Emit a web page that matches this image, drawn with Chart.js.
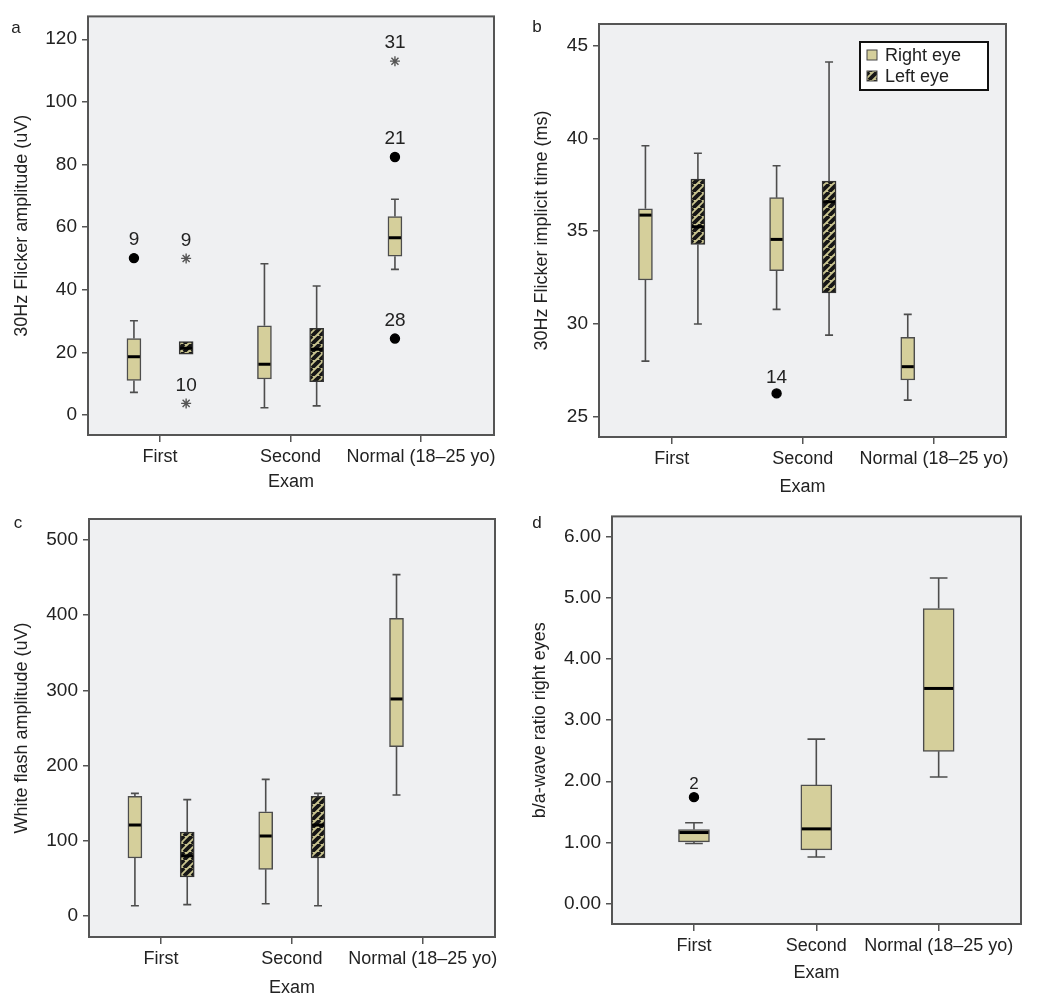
<!DOCTYPE html>
<html>
<head>
<meta charset="utf-8">
<script src="https://cdn.jsdelivr.net/npm/chart.js@4/dist/chart.umd.min.js"></script>
<style>
  body { margin: 0; background: #fff; }
  #wrap { position: relative; width: 1050px; height: 1003px; }
  canvas { position: absolute; }
</style>
</head>
<body>
<div id="wrap">
  <canvas id="pa" width="525" height="500" style="left:0;top:0"></canvas>
  <canvas id="pb" width="525" height="500" style="left:525px;top:0"></canvas>
  <canvas id="pc" width="525" height="503" style="left:0;top:500px"></canvas>
  <canvas id="pd" width="525" height="503" style="left:525px;top:500px"></canvas>
</div>
<script>
const exams = ['First', 'Second', 'Normal (18–25 yo)'];

// each row: [min, q1, median, q3, max] per exam
const flickerAmpRight = [[7.2, 11.0, 18.6, 24.4, 30.1], [2.3, 11.5, 16.2, 28.5, 48.3], [46.5, 50.7, 56.6, 63.4, 68.9]];
const flickerAmpLeft = [[19.4, 19.4, 21.3, 23.4, 23.4], [2.9, 10.6, 21.0, 27.7, 41.2]];
// [exam index, eye, value, case no, marker]
const flickerAmpOutliers = [
  [0, 'R', 50.1, '9', 'circle'], [0, 'L', 50.0, '9', 'star'], [0, 'L', 3.7, '10', 'star'],
  [2, 'R', 113.0, '31', 'star'], [2, 'R', 82.4, '21', 'circle'], [2, 'R', 24.4, '28', 'circle']
];
const flickerAmpTicks = [0, 20, 40, 60, 80, 100, 120];

const flickerTimeRight = [[28.0, 32.37, 35.87, 36.21, 39.61], [30.79, 32.87, 34.56, 36.81, 38.53], [25.9, 26.98, 27.7, 29.28, 30.52]];
const flickerTimeLeft = [[30.0, 34.29, 35.24, 37.81, 39.2], [29.4, 31.68, 36.59, 37.7, 44.12]];
const flickerTimeOutliers = [[1, 'R', 26.26, '14', 'circle']];
const flickerTimeTicks = [25, 30, 35, 40, 45];

const whiteFlashRight = [[13.7, 77.1, 121.0, 159.1, 163.1], [16.4, 62.1, 106.4, 138.7, 181.7], [160.9, 225.2, 288.6, 395.8, 453.9]];
const whiteFlashLeft = [[15.1, 51.9, 80.0, 111.7, 154.7], [13.7, 77.1, 121.0, 159.1, 163.1]];
const whiteFlashTicks = [0, 100, 200, 300, 400, 500];

const baRatioRight = [[0.98, 1.006, 1.16, 1.21, 1.32], [0.76, 0.876, 1.22, 1.94, 2.69], [2.07, 2.49, 3.52, 4.83, 5.33]];
const baRatioOutliers = [[0, 'R', 1.74, '2', 'circle']];
const baRatioTicks = [0, 1, 2, 3, 4, 5, 6];

const FONT = '"Liberation Sans", Arial, sans-serif';
const TXT = '#222';
const TAN = '#d5cf9b';

function hatchPattern() {
  const s = 8;
  const c = document.createElement('canvas');
  c.width = s; c.height = s;
  const g = c.getContext('2d');
  g.fillStyle = '#c9c48f';
  g.fillRect(0, 0, s, s);
  g.strokeStyle = '#161616';
  g.lineWidth = 3.8;
  for (let k = -1; k <= 1; k++) {
    g.beginPath();
    g.moveTo(k * s, s);
    g.lineTo(k * s + s, 0);
    g.stroke();
  }
  return g.createPattern(c, 'repeat');
}

const boxPlugin = {
  id: 'boxplot',
  beforeDraw(chart) {
    const {ctx, chartArea: a} = chart;
    ctx.save();
    ctx.fillStyle = '#eff0f2';
    ctx.fillRect(a.left, a.top, a.right - a.left, a.bottom - a.top);
    ctx.restore();
  },
  beforeDatasetsDraw(chart) {
    const {ctx} = chart;
    const y = chart.scales.y;
    ctx.save();
    ctx.strokeStyle = '#4d4d4d';
    ctx.lineWidth = 1.6;
    chart.data.datasets.forEach((ds, i) => {
      if (!ds.stats) return;
      chart.getDatasetMeta(i).data.forEach((el, j) => {
        const s = ds.stats[j];
        const cap = el.width * 0.57;
        [[s[1], s[0]], [s[3], s[4]]].forEach(([from, to]) => {
          if (to === from) return;
          ctx.beginPath();
          ctx.moveTo(el.x, y.getPixelForValue(from));
          ctx.lineTo(el.x, y.getPixelForValue(to));
          ctx.moveTo(el.x - cap / 2, y.getPixelForValue(to));
          ctx.lineTo(el.x + cap / 2, y.getPixelForValue(to));
          ctx.stroke();
        });
      });
    });
    ctx.restore();
  },
  afterDatasetsDraw(chart, args, opts) {
    const {ctx, chartArea: a} = chart;
    const y = chart.scales.y;
    ctx.save();
    // medians
    ctx.strokeStyle = '#000';
    ctx.lineWidth = 3;
    chart.data.datasets.forEach((ds, i) => {
      if (!ds.stats) return;
      chart.getDatasetMeta(i).data.forEach((el, j) => {
        const py = y.getPixelForValue(ds.stats[j][2]);
        ctx.beginPath();
        ctx.moveTo(el.x - el.width / 2 + 1, py);
        ctx.lineTo(el.x + el.width / 2 - 1, py);
        ctx.stroke();
      });
    });
    // case numbers over outliers
    ctx.fillStyle = TXT;
    ctx.textAlign = 'center';
    ctx.textBaseline = 'middle';
    chart.data.datasets.forEach((ds, i) => {
      if (!ds.caseNo) return;
      ctx.font = (opts.caseSize || 19) + 'px ' + FONT;
      chart.getDatasetMeta(i).data.forEach((el, j) => {
        ctx.fillText(ds.caseNo[j], el.x, el.y - (opts.caseGap || 18));
      });
    });
    // frame
    ctx.strokeStyle = '#555';
    ctx.lineWidth = 2;
    ctx.strokeRect(a.left, a.top, a.right - a.left, a.bottom - a.top);
    // panel letter
    ctx.font = '17px ' + FONT;
    ctx.fillText(opts.letter[0], opts.letter[1], opts.letter[2]);
    // legend
    if (opts.legend) {
      const L = opts.legend;
      ctx.fillStyle = '#fff';
      ctx.fillRect(L.x, L.y, L.w, L.h);
      ctx.strokeStyle = '#111';
      ctx.lineWidth = 2;
      ctx.strokeRect(L.x, L.y, L.w, L.h);
      const items = [['Right eye', TAN], ['Left eye', chart.$hatch]];
      ctx.textAlign = 'left';
      ctx.font = '18px ' + FONT;
      items.forEach(([t, fill], k) => {
        const cy = L.y + 13 + k * 21;
        ctx.fillStyle = fill;
        ctx.fillRect(L.x + 7, cy - 5, 10, 10);
        ctx.strokeStyle = '#444';
        ctx.lineWidth = 1;
        ctx.strokeRect(L.x + 7, cy - 5, 10, 10);
        ctx.fillStyle = TXT;
        ctx.fillText(t, L.x + 25, cy + 1);
      });
    }
    ctx.restore();
  }
};

function panel(id, p) {
  const canvas = document.getElementById(id);
  const W = canvas.width, H = canvas.height;
  const hatch = hatchPattern();
  const datasets = [];
  const off = p.left ? 0.2 : 0;
  datasets.push({
    type: 'bar',
    data: p.right.map((s, i) => ({x: i + 1 - off, y: [s[1], s[3]]})),
    stats: p.right,
    backgroundColor: TAN,
    borderColor: '#4d4d4d',
    borderWidth: 1.5,
    borderSkipped: false,
    barThickness: p.barW,
    grouped: false
  });
  if (p.left) {
    datasets.push({
      type: 'bar',
      data: p.left.map((s, i) => ({x: i + 1 + off, y: [s[1], s[3]]})),
      stats: p.left,
      backgroundColor: hatch,
      borderColor: '#333',
      borderWidth: 1.5,
      borderSkipped: false,
      barThickness: p.barW,
      grouped: false
    });
  }
  if (p.outliers) {
    datasets.push({
      type: 'scatter',
      data: p.outliers.map(o => ({x: o[0] + 1 + (o[1] === 'R' ? -off : off), y: o[2]})),
      caseNo: p.outliers.map(o => o[3]),
      pointStyle: p.outliers.map(o => o[4]),
      pointRadius: p.outliers.map(o => o[4] === 'star' ? 5 : 4.5),
      backgroundColor: p.outliers.map(o => o[4] === 'star' ? '#555' : '#000'),
      borderColor: p.outliers.map(o => o[4] === 'star' ? '#555' : '#000'),
      borderWidth: 1.4
    });
  }
  const chart = new Chart(canvas, {
    type: 'bar',
    data: {datasets},
    plugins: [boxPlugin],
    options: {
      responsive: false,
      animation: false,
      events: [],
      layout: {padding: {left: 0, top: p.area[1], right: W - p.area[2], bottom: 0}},
      plugins: {
        legend: {display: false},
        tooltip: {enabled: false},
        boxplot: {letter: p.letter, legend: p.legend, caseSize: p.caseSize, caseGap: p.caseGap}
      },
      scales: {
        x: {
          type: 'linear',
          offset: false,
          min: p.xRange[0], max: p.xRange[1],
          afterFit: s => { s.height = H - p.area[3]; },
          afterBuildTicks: s => { s.ticks = exams.map((e, i) => ({value: i + 1})); },
          border: {display: false},
          grid: {offset: false, drawOnChartArea: false, drawTicks: true, tickLength: 7, color: '#555', lineWidth: 1.5},
          ticks: {
            autoSkip: false, maxRotation: 0, minRotation: 0, padding: 4,
            color: TXT, font: {family: FONT, size: 18},
            callback: v => exams[Math.round(v) - 1]
          },
          title: {display: true, text: 'Exam', color: TXT, font: {family: FONT, size: 18},
                  padding: {top: 0, bottom: p.xTitlePad}}
        },
        y: {
          min: p.yRange[0], max: p.yRange[1],
          afterFit: s => { s.width = p.area[0]; },
          afterBuildTicks: s => { s.ticks = p.yTicks.map(v => ({value: v})); },
          border: {display: false},
          grid: {drawOnChartArea: false, drawTicks: true, tickLength: 6, color: '#555', lineWidth: 1.5},
          ticks: {
            padding: 5, color: TXT, font: {family: FONT, size: 19},
            callback: v => p.decimals ? v.toFixed(p.decimals) : v
          },
          title: {display: true, text: p.yTitle, color: TXT, font: {family: FONT, size: 18},
                  padding: {top: p.yTitlePad, bottom: 0}}
        }
      }
    }
  });
  chart.$hatch = hatch;
  chart.draw();
  return chart;
}

panel('pa', {
  right: flickerAmpRight, left: flickerAmpLeft, outliers: flickerAmpOutliers,
  yTicks: flickerAmpTicks, yRange: [-6.4, 127.3], xRange: [0.448, 3.559],
  area: [88, 16, 494, 435], barW: 14, yTitle: '30Hz Flicker amplitude (uV)',
  yTitlePad: 11, xTitlePad: 7, letter: ['a', 16, 28], caseGap: 18
});
panel('pb', {
  right: flickerTimeRight, left: flickerTimeLeft, outliers: flickerTimeOutliers,
  yTicks: flickerTimeTicks, yRange: [23.91, 46.17], xRange: [0.446, 3.549],
  area: [74, 24, 481, 437], barW: 14, yTitle: '30Hz Flicker implicit time (ms)',
  yTitlePad: 6, xTitlePad: 2.5, letter: ['b', 12, 27], caseGap: 16,
  legend: {x: 335, y: 42, w: 128, h: 48}
});
panel('pc', {
  right: whiteFlashRight, left: whiteFlashLeft,
  yTicks: whiteFlashTicks, yRange: [-27.9, 527.9], xRange: [0.449, 3.553],
  area: [89, 19, 495, 437], barW: 14, yTitle: 'White flash amplitude (uV)',
  yTitlePad: 11, xTitlePad: 4, letter: ['c', 18, 23]
});
panel('pd', {
  right: baRatioRight, outliers: baRatioOutliers,
  yTicks: baRatioTicks, yRange: [-0.338, 6.338], xRange: [0.33, 3.673], decimals: 2,
  area: [87, 15, 496, 424], barW: 31, yTitle: 'b/a-wave ratio right eyes',
  yTitlePad: 4, xTitlePad: 19, letter: ['d', 12, 23], caseSize: 17, caseGap: 13
});
</script>
</body>
</html>
